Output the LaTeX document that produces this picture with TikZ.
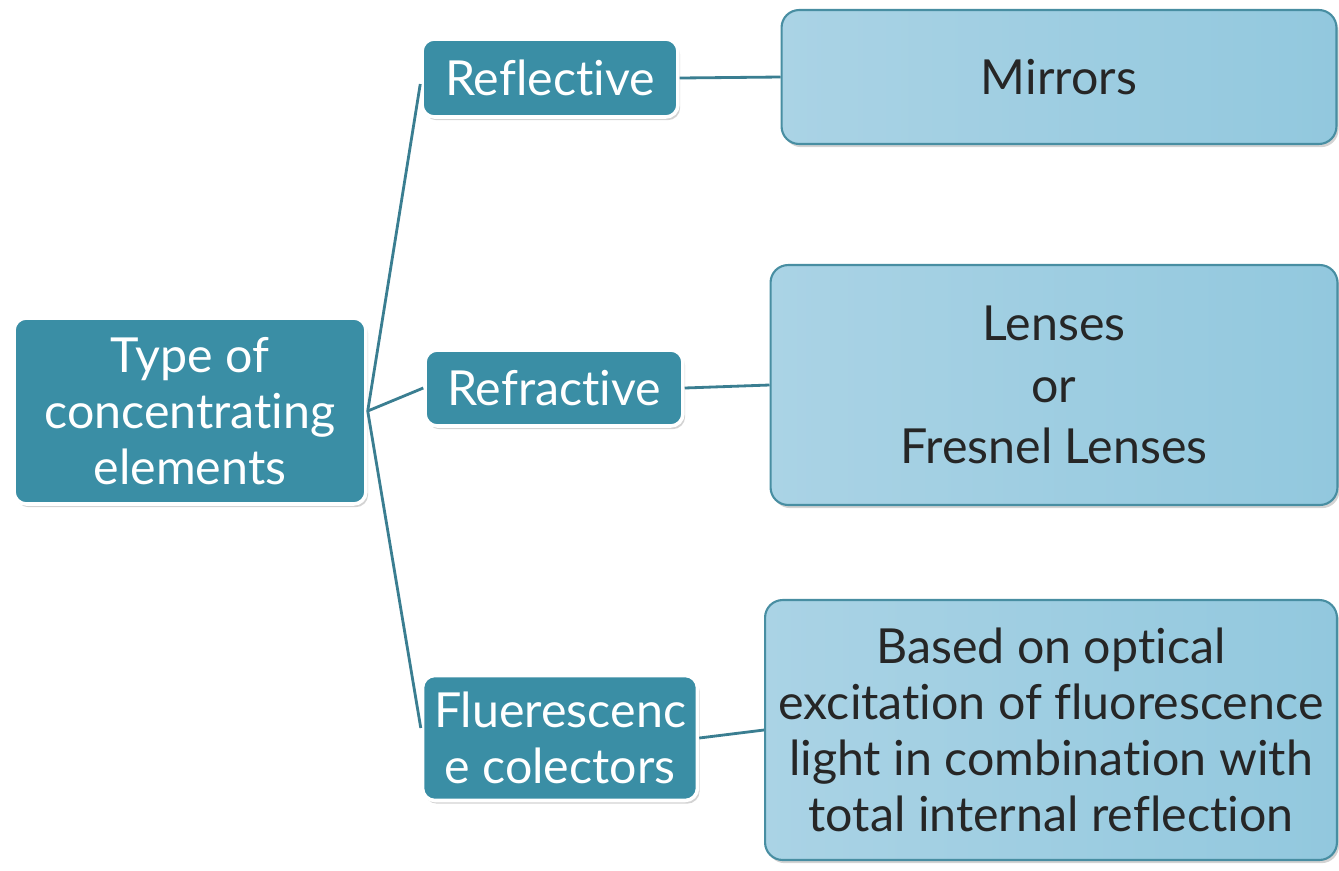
\documentclass[tikz,border=0pt]{standalone}
\usepackage{fontspec}
\setsansfont{Lato}[Ligatures={NoCommon}]
\usetikzlibrary{shadows}
\definecolor{TealDark}{RGB}{58,142,165}
\definecolor{TealLine}{RGB}{58,126,145}
\definecolor{SkyLeft}{RGB}{170,211,229}
\definecolor{SkyRight}{RGB}{146,200,222}
\definecolor{SkyEdge}{RGB}{72,142,162}

\tikzset{
  rootbox/.style={draw=white, line width=2pt, fill=TealDark, rounded corners=7pt,
    text=white, align=center, inner sep=0pt,
    drop shadow={shadow xshift=1.2pt, shadow yshift=-1.8pt, opacity=0.35}},
  typebox/.style={rootbox},
  detailbox/.style={draw=SkyEdge, line width=1.2pt, rounded corners=10pt,
    left color=SkyLeft, right color=SkyRight, text=black!85, align=center, inner sep=0pt,
    drop shadow={shadow xshift=1.2pt, shadow yshift=-1.8pt, opacity=0.35}},
  link/.style={TealLine, line width=1.6pt}
}

\begin{document}
\begin{tikzpicture}[x=0.02cm, y=-0.02cm, font=\sffamily\fontsize{27.5}{32}\selectfont]

\useasboundingbox (0,0) rectangle (1339,870);

% left: the heading
\node[rootbox, minimum width=7.04cm, minimum height=3.72cm] (root) at (190,411)
  {Type of\\concentrating\\elements};

% middle: the three kinds
\node[typebox, minimum width=5.12cm, minimum height=1.56cm] (refl) at (550,78) {Reflective};
\node[typebox, minimum width=5.16cm, minimum height=1.52cm] (refr) at (554,388) {Refractive};
\node[typebox, minimum width=5.5cm, minimum height=2.5cm] (flu) at (560,738)
  {Fluerescenc\\e colectors};

% right: what they use
\node[detailbox, minimum width=11.1cm, minimum height=2.68cm] (mirr) at (1059,77) {Mirrors};
\node[detailbox, minimum width=11.34cm, minimum height=4.8cm, font=\sffamily\fontsize{27.5}{35}\selectfont]
  (lens) at (1054,385) {Lenses\\or\\Fresnel Lenses};
\node[detailbox, minimum width=11.44cm, minimum height=5.2cm] (based) at (1051,730)
  {Based on optical\\excitation of fluorescence\\light in combination with\\total internal reflection};

% connectors
\draw[link] (root.east) -- ([yshift=-0.12cm]refl.west);
\draw[link] (root.east) -- (refr.west);
\draw[link] (root.east) -- ([yshift=0.2cm]flu.west);
\draw[link] (refl.east) -- (mirr.west);
\draw[link] (refr.east) -- (lens.west);
\draw[link] (flu.east) -- (based.west);

\end{tikzpicture}
\end{document}
